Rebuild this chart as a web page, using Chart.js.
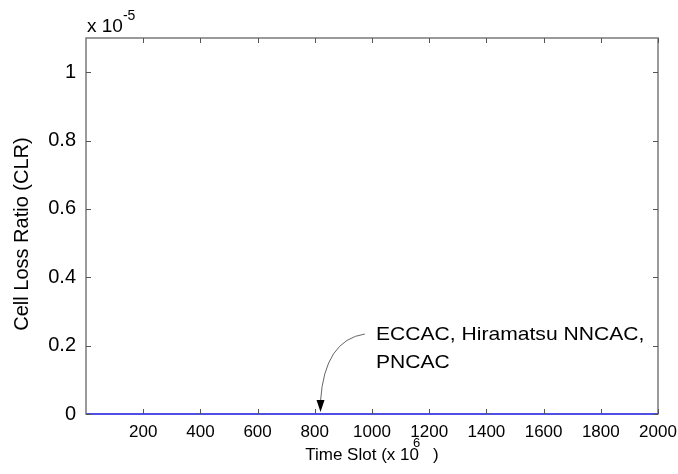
<!DOCTYPE html>
<html>
<head>
<meta charset="utf-8">
<script src="https://cdn.jsdelivr.net/npm/chart.js@4/dist/chart.umd.min.js"></script>
<style>
  html, body { margin: 0; padding: 0; background: #fff; }
  #wrap { width: 678px; height: 474px; }
</style>
</head>
<body>
<div id="wrap"><canvas id="clrChart" width="678" height="474"></canvas></div>
<script>
// time slots (x 10^6) and cell loss ratio, all three schemes sit on zero
var timeSlots = [1, 200, 400, 600, 800, 1000, 1200, 1400, 1600, 1800, 2000];
var clrValues = [0, 0, 0, 0, 0, 0, 0, 0, 0, 0, 0];
var xTicks = [200, 400, 600, 800, 1000, 1200, 1400, 1600, 1800, 2000];
var yTicks = [0, 0.2e-5, 0.4e-5, 0.6e-5, 0.8e-5, 1.0e-5];
var annotLines = ['ECCAC, Hiramatsu NNCAC,', 'PNCAC'];

var FONT = 'Liberation Sans, Arial, sans-serif';
var AXIS_GREY = '#7a7a7a';

// box, inward ticks, superscripts and the arrow note
var matlabBox = {
    id: 'matlabBox',
    beforeDatasetsDraw: function (chart) {
        var a = chart.chartArea, ctx = chart.ctx;
        ctx.save();
        ctx.strokeStyle = AXIS_GREY;
        ctx.lineWidth = 1.5;
        ctx.strokeRect(a.left, a.top, a.right - a.left, a.bottom - a.top);
        ctx.restore();
    },
    afterDatasetsDraw: function (chart) {
        var a = chart.chartArea, ctx = chart.ctx;
        var xs = chart.scales.x, ys = chart.scales.y;
        var len = 5;
        ctx.save();
        ctx.strokeStyle = '#555';
        ctx.lineWidth = 1;
        ctx.beginPath();
        xTicks.forEach(function (v) {
            var px = Math.round(xs.getPixelForValue(v)) + 0.5;
            ctx.moveTo(px, a.bottom); ctx.lineTo(px, a.bottom - len);
            ctx.moveTo(px, a.top); ctx.lineTo(px, a.top + len);
        });
        yTicks.forEach(function (v) {
            var py = Math.round(ys.getPixelForValue(v)) + 0.5;
            ctx.moveTo(a.left, py); ctx.lineTo(a.left + len, py);
            ctx.moveTo(a.right, py); ctx.lineTo(a.right - len, py);
        });
        ctx.stroke();

        // exponent label above the y axis
        ctx.fillStyle = '#000';
        ctx.textBaseline = 'alphabetic';
        ctx.textAlign = 'left';
        ctx.font = '19px ' + FONT;
        ctx.fillText('x 10', a.left + 1, 32);
        var w = ctx.measureText('x 10').width;
        ctx.font = '14px ' + FONT;
        ctx.fillText('-5', a.left + 1 + w, 20);

        // y axis title
        ctx.save();
        ctx.font = '20px ' + FONT;
        ctx.textAlign = 'center';
        ctx.textBaseline = 'middle';
        ctx.translate(22, 234);
        ctx.rotate(-Math.PI / 2);
        ctx.fillText('Cell Loss Ratio (CLR)', 0, 0);
        ctx.restore();

        // superscript 6 of the x title
        ctx.font = '13px ' + FONT;
        ctx.textAlign = 'left';
        ctx.fillText('6', 413, 447);

        // annotation text (a bit wider than tall, like the original)
        var tx = xs.getPixelForValue(1014);
        ctx.save();
        ctx.translate(tx, 0);
        ctx.scale(1.14, 1);
        ctx.font = '18.5px ' + FONT;
        ctx.fillText(annotLines[0], 0, 340);
        ctx.fillText(annotLines[1], 0, 368);
        ctx.restore();

        // curved arrow down to the line
        var tipX = xs.getPixelForValue(820), tipY = ys.getPixelForValue(0) - 2;
        var sx = xs.getPixelForValue(975), sy = ys.getPixelForValue(0.234e-5);
        ctx.strokeStyle = '#666';
        ctx.lineWidth = 1;
        ctx.beginPath();
        ctx.moveTo(sx, sy);
        ctx.quadraticCurveTo(tipX + 4, sy + 6, tipX, tipY - 11);
        ctx.stroke();
        ctx.fillStyle = '#000';
        ctx.beginPath();
        ctx.moveTo(tipX, tipY);
        ctx.lineTo(tipX - 4, tipY - 12);
        ctx.lineTo(tipX + 4, tipY - 12);
        ctx.closePath();
        ctx.fill();
        ctx.restore();
    }
};

var ctx = document.getElementById('clrChart');
var clrChart = new Chart(ctx, {
    type: 'line',
    data: {
        datasets: [
          {
              data: timeSlots.map(function (t, i) { return { x: t, y: clrValues[i] }; }),
              borderColor: '#3636ff',
              borderWidth: 1.5,
              pointRadius: 0,
              tension: 0,
              clip: false
          }
        ]
    },
    options: {
        responsive: false,
        animation: false,
        devicePixelRatio: 1,
        layout: { padding: { left: 0, top: 38, right: 20, bottom: 0 } },
        plugins: { legend: { display: false }, tooltip: { enabled: false } },
        scales: {
            x: {
                type: 'linear',
                min: 0,
                max: 2000,
                afterFit: function (s) {
                    s.height = 60;
                    s.paddingLeft = 0;
                    s.paddingRight = 0;
                },
                afterBuildTicks: function (s) {
                    s.ticks = xTicks.map(function (v) { return { value: v }; });
                },
                grid: { display: false, drawTicks: false },
                border: { display: false },
                ticks: {
                    color: '#000',
                    padding: 8,
                    maxRotation: 0,
                    autoSkip: false,
                    font: { family: FONT, size: 17 },
                    callback: function (v) { return String(v); }
                },
                title: {
                    display: true,
                    text: 'Time Slot (x 10   )',
                    color: '#000',
                    font: { family: FONT, size: 17 },
                    padding: { top: 0, bottom: 8 }
                }
            },
            y: {
                type: 'linear',
                min: 0,
                max: 1.1e-5,
                afterFit: function (s) {
                    s.width = 86;
                    s.paddingTop = 0;
                    s.paddingBottom = 0;
                },
                afterBuildTicks: function (s) {
                    s.ticks = yTicks.map(function (v) { return { value: v }; });
                },
                grid: { display: false, drawTicks: false },
                border: { display: false },
                ticks: {
                    color: '#000',
                    padding: 10,
                    autoSkip: false,
                    font: { family: FONT, size: 20 },
                    callback: function (v) { return String(+(v * 1e5).toFixed(1)); }
                }
            }
        }
    },
    plugins: [matlabBox]
});
</script>
</body>
</html>
